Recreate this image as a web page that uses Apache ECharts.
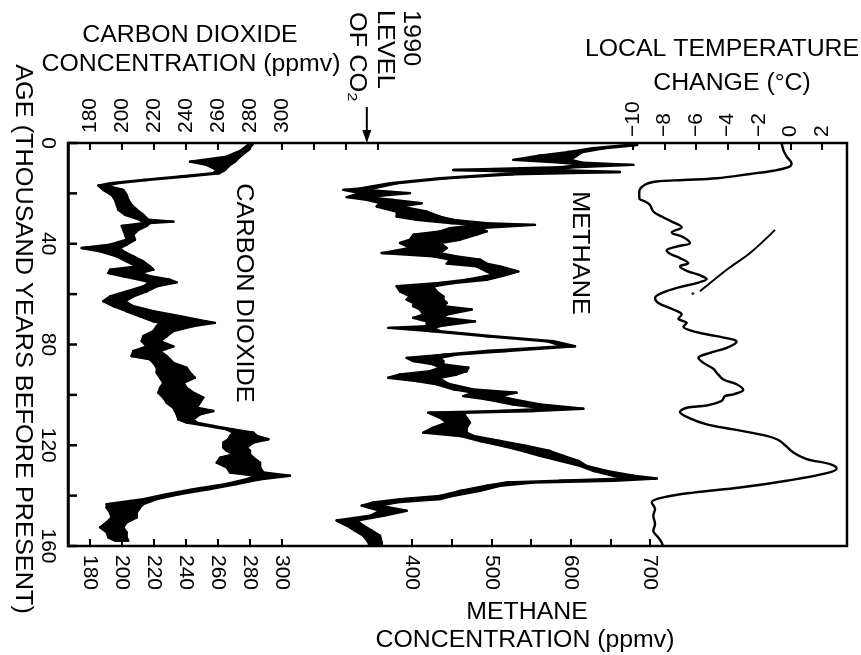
<!DOCTYPE html>
<html>
<head>
<meta charset="utf-8">
<script src="https://cdn.jsdelivr.net/npm/echarts@6/dist/echarts.min.js"></script>
<style>
html, body { margin: 0; padding: 0; background: #fff; }
#chart { width: 861px; height: 655px; }
</style>
</head>
<body>
<div id="chart"></div>
<script>
// Vostok ice core: CO2 and CH4 envelopes and local temperature change vs. age (kyr BP)

// Carbon dioxide envelope (ppmv): lower and upper bound at each age
const co2Age = [0.1, 2.8, 5.4, 7.4, 8.7, 10.7, 12.0, 13.3, 14.7, 16.0, 16.9, 18.6, 20.6, 22.6, 24.6, 26.5, 28.5, 30.5, 31.2, 31.8, 32.9, 34.5, 36.4, 38.4, 40.4, 41.7, 43.0, 45.0, 47.0, 49.0, 50.3, 51.6, 52.9, 54.3, 55.3, 56.9, 58.9, 60.9, 62.8, 64.8, 66.8, 68.8, 70.8, 71.4, 72.7, 74.7, 76.7, 78.7, 80.7, 82.6, 84.6, 85.9, 87.3, 89.2, 91.2, 93.2, 95.2, 97.2, 99.1, 101.1, 103.1, 105.1, 106.4, 107.7, 109.7, 111.0, 112.3, 113.7, 115.0, 116.3, 117.6, 118.9, 120.9, 122.2, 123.6, 124.9, 126.9, 128.8, 130.8, 132.1, 133.5, 135.4, 137.4, 139.4, 141.4, 143.4, 144.7, 146.7, 148.7, 150.6, 152.6, 154.6, 156.6, 157.9];
const co2Low = [280, 274.8, 265.4, 242.5, 252.9, 259.2, 257.1, 236.3, 213.3, 192.5, 185.2, 188.3, 193.5, 195.6, 196.7, 197.7, 201.9, 211.3, 212.3, 213.3, 199.8, 200.8, 201.9, 202.9, 192.5, 174.8, 186.3, 196.7, 202.9, 209.2, 192.5, 191.5, 200.8, 211.3, 217.5, 213.3, 202.9, 192.5, 188.3, 194.6, 202.9, 211.3, 219.6, 223.8, 221.7, 219.6, 213.3, 212.3, 215.4, 207.1, 206, 217.5, 219.6, 221.7, 221.7, 223.8, 225.8, 223.8, 222.7, 225.8, 227.9, 232.1, 233.1, 234.2, 235.2, 240.4, 252.9, 265.4, 269.6, 267.5, 266.5, 263.3, 263.3, 265.4, 269.6, 261.3, 259.2, 265.4, 267.5, 284.2, 277.9, 265.4, 244.6, 227.9, 213.3, 190.4, 190.4, 192.5, 193.5, 190.4, 186.3, 190.4, 191.5, 195.6];
const co2High = [282.1, 279, 273.8, 270.6, 267.5, 264.4, 260.8, 240.4, 215.4, 196.7, 190.4, 200.8, 202.9, 204, 206, 209.2, 213.3, 216.5, 232.1, 217.5, 215.4, 210.2, 207.1, 208.1, 202.9, 198.8, 200.8, 207.1, 213.3, 217.5, 219.6, 211.3, 217.5, 230, 234.2, 221.7, 215.4, 207.1, 201.9, 207.1, 219.6, 236.3, 252.9, 258.1, 244.6, 232.1, 227.9, 223.8, 232.1, 223.8, 227.9, 230, 232.1, 240.4, 242.5, 245.6, 238.3, 240.4, 244.6, 250.8, 248.8, 246.7, 257.1, 248.8, 244.6, 246.7, 257.1, 269.6, 282.1, 284.2, 291.5, 282.1, 277.9, 280, 280, 282.1, 286.3, 286.3, 288.3, 305, 286.3, 271.7, 255, 236.3, 221.7, 213.3, 211.3, 209.2, 209.2, 202.9, 200.8, 202.9, 202.9, 204];

// Methane envelope (ppbv)
const ch4Age = [0.8, 2.1, 3.6, 5.0, 6.7, 7.8, 8.7, 9.6, 10.7, 11.5, 12.4, 14.0, 16.0, 18.0, 18.6, 19.9, 21.5, 22.6, 23.9, 25.2, 27.2, 29.2, 30.5, 31.8, 32.5, 33.8, 35.1, 36.4, 38.4, 39.7, 41.7, 43.7, 45.0, 46.3, 47.9, 49.0, 51.0, 52.3, 54.3, 55.6, 56.9, 58.9, 60.9, 62.2, 63.5, 64.8, 66.1, 68.1, 69.4, 70.8, 72.7, 73.4, 74.7, 76.7, 78.7, 80.7, 82.6, 84.0, 85.3, 86.6, 87.9, 89.2, 90.6, 91.9, 93.2, 94.5, 95.8, 97.8, 99.1, 100.5, 101.8, 103.8, 105.5, 106.4, 107.1, 109.1, 111.0, 113.0, 115.0, 116.3, 118.3, 120.3, 122.3, 124.2, 126.2, 128.2, 130.2, 132.1, 133.2, 134.1, 134.8, 136.1, 138.1, 140.1, 141.4, 142.7, 144.0, 146.0, 148.0, 149.9, 151.9, 153.9, 155.9, 158.5, 159.8];
const ch4Low = [672, 628, 596, 560, 527.7, 586.6, 616, 586.6, 452.1, 552.9, 510.9, 435.2, 372.2, 334.4, 313.3, 334.4, 317.6, 342.8, 359.6, 355.4, 380.6, 380.6, 405.8, 447.9, 481.5, 447.9, 435.2, 401.6, 397.4, 384.8, 397.4, 361.7, 426.8, 447.9, 443.7, 481.5, 494.1, 502.5, 468.9, 435.2, 380.6, 384.8, 397.4, 393.2, 401.6, 401.6, 410, 414.2, 401.6, 418.4, 418.4, 370.1, 422.6, 494.1, 569.8, 590.8, 494.1, 439.5, 393.2, 401.6, 426.8, 435.2, 422.6, 384.8, 370.1, 405.8, 431, 452.1, 477.3, 464.7, 494.1, 527.7, 569.8, 510.9, 420.5, 435.2, 443.7, 426.8, 414.2, 460.5, 485.7, 515.1, 540.3, 561.3, 586.6, 611.8, 628.6, 653.8, 670.6, 586.6, 519.3, 494.1, 460.5, 435.2, 384.8, 351.2, 336.5, 359.6, 347, 304.9, 317.6, 328.1, 338.6, 344.9, 346];
const ch4High = [684, 642, 615, 608, 600, 615, 679, 603.4, 578.2, 662.2, 527.7, 443.7, 380.6, 351.2, 342.8, 397.4, 342.8, 376.4, 412.1, 384.8, 418.4, 435.2, 452.1, 494.1, 555, 485.7, 494.1, 481.5, 460.5, 435.2, 443.7, 435.2, 456.3, 485.7, 494.1, 510.9, 534, 519.3, 494.1, 452.1, 426.8, 431, 439.5, 439.5, 443.7, 439.5, 475.2, 443.7, 439.5, 479.4, 435.2, 426.8, 435.2, 502.5, 578.2, 605.5, 519.3, 456.3, 435.2, 439.5, 439.5, 471, 468.9, 456.3, 435.2, 439.5, 447.9, 477.3, 531.9, 510.9, 527.7, 561.3, 616, 552.9, 464.7, 468.9, 473.1, 468.9, 468.9, 477.3, 510.9, 544.5, 574, 590.8, 609.7, 620.2, 645.4, 679, 708.5, 653.8, 552.9, 510.9, 485.7, 452.1, 435.2, 380.6, 359.6, 393.2, 363.8, 330.2, 338.6, 349.1, 359.6, 361.7, 362];

// Local temperature change (deg C)
const tempAge = [0.1, 2.8, 5.4, 8.1, 9.6, 11.0, 12.3, 14.0, 14.7, 15.3, 16.6, 19.3, 21.9, 23.2, 24.6, 27.2, 29.2, 31.2, 33.4, 35.5, 37.4, 39.7, 41.1, 42.6, 44.0, 45.7, 47.7, 49.0, 51.0, 52.5, 54.0, 55.6, 57.2, 59.3, 61.5, 63.5, 66.1, 68.1, 69.8, 71.4, 73.0, 75.1, 76.7, 78.9, 81.3, 83.3, 85.3, 87.3, 89.6, 91.2, 93.9, 95.8, 98.1, 99.8, 100.5, 102.4, 104.2, 105.1, 106.8, 109.0, 111.7, 113.7, 116.3, 118.3, 122.9, 125.5, 127.5, 129.2, 131.1, 134.1, 136.8, 138.8, 140.7, 142.7, 145.3, 148.0, 151.3, 153.9, 156.6, 158.6, 160];
const tempVal = [-0.56, -0.45, -0.24, 0.07, -0.14, -1.09, -2.57, -4.69, -6.8, -8.5, -9.24, -9.6, -9.6, -9.24, -8.92, -8.71, -8.18, -7.54, -6.91, -7.54, -6.8, -6.38, -7.23, -7.86, -7.65, -7.02, -6.49, -7.02, -6.49, -5.75, -5.32, -5.96, -7.02, -8.07, -8.6, -8.39, -7.44, -6.91, -7.12, -6.59, -6.8, -5.96, -4.69, -3.42, -4.05, -5.11, -5.85, -5.53, -4.9, -4.69, -4.26, -3.42, -3.0, -3.63, -4.16, -4.37, -5.32, -6.59, -7.02, -6.49, -5.32, -3.63, -1.51, -0.67, 0.18, 1.03, 2.51, 2.93, 2.3, -0.24, -3.21, -6.17, -8.07, -8.81, -8.6, -8.71, -8.6, -8.71, -8.39, -8.18, -8.1];

// Separate short temperature trace and its isolated point
const tempSegAge = [34.5, 43.7, 50.3, 58.9];
const tempSegVal = [-0.98, -2.57, -4.05, -5.75];
const tempDotAge = [59.8];
const tempDotVal = [-6.2];

// 1990 atmospheric CO2 level (ppmv)
const co2Level1990 = 353;

// Ticks and labels
const ageTicks = [0, 20, 40, 60, 80, 100, 120, 140, 160];
const ageLabels = [0, 40, 80, 120, 160];
const co2TopTicks = [180, 200, 220, 240, 260, 280, 300, 320, 340, 360];
const co2BottomTicks = [180, 200, 220, 240, 260, 280, 300];
const co2Labels = [180, 200, 220, 240, 260, 280, 300];
const ch4Ticks = [400, 450, 500, 550, 600, 650, 700];
const ch4Labels = [400, 500, 600, 700];
const tempTicks = [-10, -8, -6, -4, -2, 0, 2];

// Axis ranges
const CO2_MIN = 166.25, CO2_MAX = 653.1;
const CH4_MIN = -33.9, CH4_MAX = 948.5;
const TEMP_MIN = -45.87, TEMP_MAX = 3.587;

const FONT = '"Liberation Sans", Arial, Helvetica, sans-serif';
const INK = '#000';

function makeXAxis(position, min, max, ticks, labels, margin, formatter) {
  return {
    type: 'value',
    position: position,
    min: min,
    max: max,
    axisLine: { show: false, onZero: false },
    splitLine: { show: false },
    axisTick: { show: true, inside: true, length: 7, customValues: ticks, lineStyle: { color: INK, width: 2 } },
    axisLabel: {
      show: true, customValues: labels, rotate: -90, margin: margin,
      color: INK, fontSize: 21, fontFamily: FONT,
      formatter: formatter || function (v) { return String(v); }
    }
  };
}

// Filled envelope between two bounds, drawn as one quad per age step
function envelope(ages, lows, highs, xAxisIndex) {
  const rows = ages.map(function (a, i) { return [lows[i], a, highs[i]]; });
  return {
    type: 'custom',
    xAxisIndex: xAxisIndex,
    yAxisIndex: 0,
    data: rows,
    encode: { x: [0, 2], y: 1 },
    silent: true,
    renderItem: function (params, api) {
      const i = params.dataIndex;
      if (i >= rows.length - 1) return null;
      const a = rows[i], b = rows[i + 1];
      const pts = [
        api.coord([a[0], a[1]]),
        api.coord([b[0], b[1]]),
        api.coord([b[2], b[1]]),
        api.coord([a[2], a[1]])
      ];
      return {
        type: 'polygon',
        shape: { points: pts },
        style: { fill: INK, stroke: INK, lineWidth: 2.4, lineJoin: 'round' }
      };
    }
  };
}

function rotText(text, x, y, align, scale) {
  return {
    type: 'text', x: x, y: y, rotation: -Math.PI / 2, scaleX: scale || 1.1,
    style: {
      text: text, font: '23px ' + FONT, fill: INK,
      align: align, verticalAlign: 'middle', textAlign: align, textVerticalAlign: 'middle'
    }
  };
}
function flatText(text, x, y, scale) {
  return {
    type: 'text', x: x, y: y, scaleX: scale || 1.08,
    style: {
      text: text, font: '23px ' + FONT, fill: INK,
      align: 'center', verticalAlign: 'middle', textAlign: 'center', textVerticalAlign: 'middle'
    }
  };
}

const chart = echarts.init(document.getElementById('chart'), null, { renderer: 'canvas' });

chart.setOption({
  animation: false,
  backgroundColor: '#fff',
  grid: {
    left: 68, top: 143, width: 779, height: 403,
    show: true, borderColor: INK, borderWidth: 2.5, backgroundColor: 'transparent'
  },
  yAxis: {
    type: 'value', inverse: true, min: 0, max: 160, position: 'left',
    axisLine: { show: true, onZero: false, lineStyle: { color: INK, width: 2.5 } },
    splitLine: { show: false },
    axisTick: { show: false },
    axisLabel: { show: true, customValues: ageLabels, rotate: -90, margin: 10, color: INK, fontSize: 21, fontFamily: FONT }
  },
  xAxis: [
    makeXAxis('top', CO2_MIN, CO2_MAX, co2TopTicks, co2Labels, 10),
    makeXAxis('bottom', CO2_MIN, CO2_MAX, co2BottomTicks, co2Labels, 9),
    makeXAxis('bottom', CH4_MIN, CH4_MAX, ch4Ticks, ch4Labels, 9),
    makeXAxis('top', TEMP_MIN, TEMP_MAX, tempTicks, tempTicks, 6,
      function (v) { return v < 0 ? '\u2212' + Math.abs(v) : String(v); })
  ],
  series: [
    envelope(co2Age, co2Low, co2High, 0),
    envelope(ch4Age, ch4Low, ch4High, 2),
    {
      type: 'line', xAxisIndex: 3, yAxisIndex: 0,
      data: tempAge.map(function (a, i) { return [tempVal[i], a]; }),
      showSymbol: false, smooth: 0.35, silent: true,
      lineStyle: { color: INK, width: 2.4 }
    },
    {
      type: 'line', xAxisIndex: 3, yAxisIndex: 0,
      data: tempSegAge.map(function (a, i) { return [tempSegVal[i], a]; }),
      showSymbol: false, smooth: 0.35, silent: true,
      lineStyle: { color: INK, width: 2 }
    },
    {
      type: 'scatter', xAxisIndex: 3, yAxisIndex: 0,
      data: tempDotAge.map(function (a, i) { return [tempDotVal[i], a]; }),
      symbolSize: 3, itemStyle: { color: INK }, silent: true
    },
    {
      // inward age ticks along the left frame edge
      type: 'custom', xAxisIndex: 0, yAxisIndex: 0, clip: false, silent: true, z: 5,
      data: ageTicks.map(function (a) { return [CO2_MIN, a]; }),
      renderItem: function (params, api) {
        const p = api.coord([api.value(0), api.value(1)]);
        return {
          type: 'rect',
          shape: { x: p[0], y: p[1] - 1.25, width: 9, height: 2.5 },
          style: { fill: INK }
        };
      }
    },
    {
      // arrow marking the 1990 CO2 level on the top CO2 scale
      type: 'custom', xAxisIndex: 0, yAxisIndex: 0, clip: false, silent: true,
      data: [[co2Level1990, 0]],
      renderItem: function (params, api) {
        const tip = api.coord([api.value(0), api.value(1)]);
        return {
          type: 'group',
          children: [
            { type: 'line', shape: { x1: tip[0], y1: tip[1] - 36, x2: tip[0], y2: tip[1] - 8 }, style: { stroke: INK, lineWidth: 2 } },
            { type: 'polygon', shape: { points: [[tip[0], tip[1]], [tip[0] - 4.5, tip[1] - 13], [tip[0] + 4.5, tip[1] - 13]] }, style: { fill: INK } }
          ]
        };
      }
    }
  ],
  graphic: [
    flatText('CARBON DIOXIDE', 190, 36),
    flatText('CONCENTRATION (ppmv)', 191, 65),
    flatText('LOCAL TEMPERATURE', 722, 50),
    flatText('CHANGE (\u00B0C)', 732, 84),
    flatText('METHANE', 527, 613),
    flatText('CONCENTRATION (ppmv)', 525, 641),
    rotText('AGE (THOUSAND YEARS BEFORE PRESENT)', 22, 339, 'center'),
    rotText('CARBON DIOXIDE', 243, 293, 'center'),
    rotText('METHANE', 579, 253, 'center'),
    rotText('1990', 410, 10, 'left'),
    rotText('LEVEL', 384, 10, 'left'),
    rotText('OF CO\u2082', 356, 12, 'left')
  ]
});
</script>
</body>
</html>
